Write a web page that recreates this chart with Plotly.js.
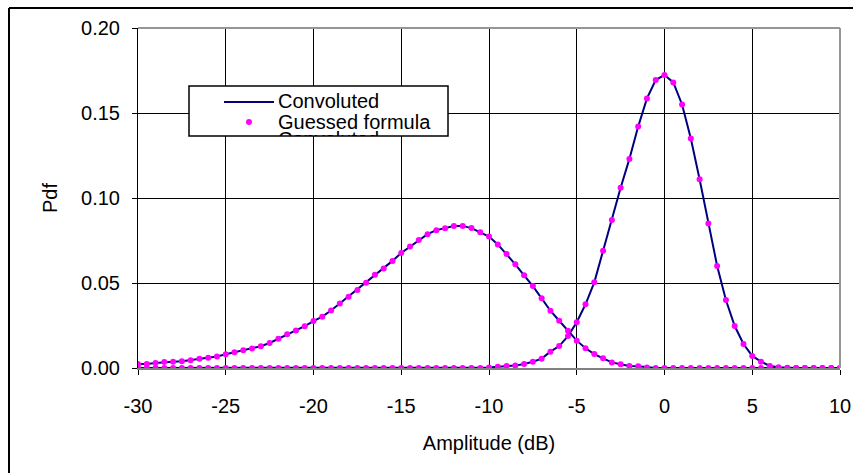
<!DOCTYPE html>
<html>
<head>
<meta charset="utf-8">
<script src="https://cdn.plot.ly/plotly-3.0.1.min.js"></script>
<style>html,body{margin:0;padding:0;background:#fff;}#chart{width:853px;height:473px;}</style>
</head>
<body>
<div id="chart"></div>
<script>
// Amplitude axis (dB)
const amplitude = [-30,-29.5,-29,-28.5,-28,-27.5,-27,-26.5,-26,-25.5,
  -25,-24.5,-24,-23.5,-23,-22.5,-22,-21.5,-21,-20.5,
  -20,-19.5,-19,-18.5,-18,-17.5,-17,-16.5,-16,-15.5,
  -15,-14.5,-14,-13.5,-13,-12.5,-12,-11.5,-11,-10.5,
  -10,-9.5,-9,-8.5,-8,-7.5,-7,-6.5,-6,-5.5,
  -5,-4.5,-4,-3.5,-3,-2.5,-2,-1.5,-1,-0.5,
  0,0.5,1,1.5,2,2.5,3,3.5,4,4.5,
  5,5.5,6,6.5,7,7.5,8,8.5,9,9.5,10];

// Lower-amplitude distribution (peak near -12 dB)
const pdfLow = [0.0024,0.0024,0.0029,0.0035,0.0037,0.0040,0.0046,0.0055,0.0060,0.0068,
  0.0081,0.0093,0.0104,0.0115,0.0128,0.0147,0.0172,0.0198,0.0220,0.0246,
  0.0276,0.0302,0.0338,0.0380,0.0419,0.0459,0.0502,0.0548,0.0586,0.0630,
  0.0677,0.0715,0.0753,0.0787,0.0811,0.0822,0.0835,0.0836,0.0823,0.0798,
  0.0773,0.0727,0.0671,0.0610,0.0545,0.0482,0.0410,0.0337,0.0278,0.0219,
  0.0161,0.0116,0.0082,0.0057,0.0033,0.0022,0.0012,0.0010,0.0003,0,
  0,0,0,0,0,0,0,0,0,0,
  0,0,0,0,0,0,0,0,0,0,0];

// Higher-amplitude distribution (peak at 0 dB)
const pdfHigh = [0,0,0,0,0,0,0,0,0,0,
  0,0,0,0,0,0,0,0,0,0,
  0,0,0,0,0,0,0,0,0,0,
  0,0,0,0,0,0,0,0,0,0,
  0.0003,0.0008,0.0012,0.0014,0.0024,0.0037,0.0055,0.0096,0.0129,0.0188,
  0.0269,0.0375,0.0504,0.0690,0.0870,0.1060,0.1230,0.1420,0.1586,0.1694,
  0.1724,0.1680,0.1550,0.1350,0.1110,0.0850,0.0600,0.0400,0.0247,0.0141,
  0.0071,0.0037,0.0012,0.0004,0.0001,0,0,0,0,0,0];

const xTickVals = [-30,-25,-20,-15,-10,-5,0,5,10];
const xTickText = ['-30','-25','-20','-15','-10','-5','0','5','10'];
const yTickVals = [0,0.05,0.10,0.15,0.20];
const yTickText = ['0.00','0.05','0.10','0.15','0.20'];
const legendNames = ['Convoluted','Guessed formula','Convoluted'];

// layout helpers (pixel -> paper)
const L = 138, R = 840, T = 28, B = 368;
const px = v => (v - L) / (R - L);
const py = v => (B - v) / (B - T);

const FONT = 'Liberation Sans, Arial, sans-serif';
const lineColor = '#000080';
const markColor = '#FF00FF';

const traces = [
  {x: amplitude, y: pdfLow, type: 'scatter', mode: 'lines', name: legendNames[0],
   line: {color: lineColor, width: 2}, hoverinfo: 'skip'},
  {x: amplitude, y: pdfHigh, type: 'scatter', mode: 'lines', name: legendNames[2],
   line: {color: lineColor, width: 2}, hoverinfo: 'skip'},
  {x: amplitude, y: pdfLow, type: 'scatter', mode: 'markers', name: legendNames[1],
   marker: {color: markColor, size: 6, symbol: 'circle'}, hoverinfo: 'skip'},
  {x: amplitude, y: pdfHigh, type: 'scatter', mode: 'markers', name: legendNames[1],
   marker: {color: markColor, size: 6, symbol: 'circle'}, hoverinfo: 'skip'}
];

const tickFont = {family: FONT, size: 20, color: '#000'};

const layout = {
  width: 853, height: 473,
  margin: {l: L, r: 853 - R, t: T, b: 473 - B, pad: 0},
  paper_bgcolor: '#fff', plot_bgcolor: '#fff',
  showlegend: false,
  font: {family: FONT, size: 20, color: '#000'},
  xaxis: {
    range: [-30, 10], tickmode: 'array', tickvals: xTickVals, ticktext: xTickText,
    showgrid: true, gridcolor: '#000', gridwidth: 1, zeroline: false,
    ticks: 'outside', ticklen: 5, tickwidth: 1, tickcolor: '#000',
    showline: true, linecolor: '#808080', linewidth: 2,
    tickfont: tickFont, ticklabelstandoff: 14,
    title: {text: 'Amplitude (dB)', font: {family: FONT, size: 20, color: '#000'}, standoff: 20}
  },
  yaxis: {
    range: [0, 0.2], tickmode: 'array', tickvals: yTickVals, ticktext: yTickText,
    showgrid: true, gridcolor: '#000', gridwidth: 1, zeroline: false,
    ticks: 'outside', ticklen: 5, tickwidth: 1, tickcolor: '#000',
    showline: true, linecolor: '#000', linewidth: 1,
    tickfont: tickFont, ticklabelstandoff: 8,
    title: {text: 'Pdf', font: {family: FONT, size: 20, color: '#000'}, standoff: 18}
  },
  shapes: [
    // plot area border (top/right, grey)
    {type: 'line', xref: 'paper', yref: 'paper', x0: 0, x1: 1, y0: 1, y1: 1,
     line: {color: '#969696', width: 2}, layer: 'above'},
    {type: 'line', xref: 'paper', yref: 'paper', x0: 1, x1: 1, y0: 0, y1: 1,
     line: {color: '#969696', width: 2}, layer: 'above'},
    // chart area border (only top and left fall inside the picture)
    {type: 'line', xref: 'paper', yref: 'paper', x0: px(9), x1: px(900), y0: py(8), y1: py(8),
     line: {color: '#000', width: 2}, layer: 'above'},
    {type: 'line', xref: 'paper', yref: 'paper', x0: px(9), x1: px(9), y0: py(8), y1: py(520),
     line: {color: '#000', width: 2}, layer: 'above'},
    // legend box
    {type: 'rect', xref: 'paper', yref: 'paper', x0: px(189), x1: px(448), y0: py(86), y1: py(136),
     line: {color: '#000', width: 1.5}, fillcolor: '#fff', layer: 'above'},
    // legend line sample
    {type: 'line', xref: 'paper', yref: 'paper', x0: px(224), x1: px(274), y0: py(102), y1: py(102),
     line: {color: lineColor, width: 2}, layer: 'above'},
    // legend marker sample
    {type: 'circle', xref: 'paper', yref: 'paper', x0: px(246), x1: px(252), y0: py(119), y1: py(125),
     line: {width: 0}, fillcolor: markColor, layer: 'above'}
  ],
  annotations: [
    {xref: 'paper', yref: 'paper', x: px(277), y: py(101), xanchor: 'left', yanchor: 'middle',
     text: legendNames[0], showarrow: false, font: {family: FONT, size: 20, color: '#000'}, borderpad: 0},
    {xref: 'paper', yref: 'paper', x: px(277), y: py(122), xanchor: 'left', yanchor: 'middle',
     text: legendNames[1], showarrow: false, font: {family: FONT, size: 20, color: '#000'}, borderpad: 0},
    {xref: 'paper', yref: 'paper', x: px(277), y: py(127), xanchor: 'left', yanchor: 'top',
     text: legendNames[2], showarrow: false, font: {family: FONT, size: 20, color: '#000'},
     height: 8, valign: 'top', borderpad: 0}
  ]
};

Plotly.newPlot('chart', traces, layout, {displayModeBar: false, staticPlot: true});
</script>
</body>
</html>
